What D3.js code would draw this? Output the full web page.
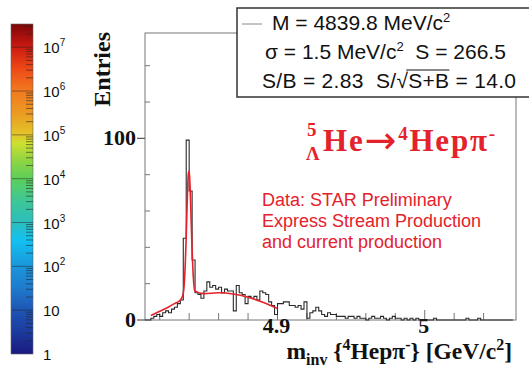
<!DOCTYPE html>
<html>
<head>
<meta charset="utf-8">
<script src="https://cdnjs.cloudflare.com/ajax/libs/d3/7.8.5/d3.min.js"></script>
<style>
  body { margin: 0; background: #fff; }
  svg { display: block; }
  text { white-space: pre; }
</style>
</head>
<body>
<svg id="chart" width="529" height="377"></svg>
<script>
// histogram: 2 MeV bins starting at 4.810 GeV/c^2
const binStart = 4.81;
const binWidth = 0.002;
const counts = [
  0, 0, 1, 2, 3, 2, 4, 5, 4, 6,
  7, 9, 11, 45, 99, 71, 33, 15, 14, 12,
  16, 21, 18, 19, 17, 18, 15, 17, 16, 16,
  5, 19, 15, 14, 9, 13, 12, 13, 11, 16,
  15, 14, 10, 8, 3, 9, 9, 10, 10, 8,
  8, 7, 8, 6, 10, 1, 4, 5, 7, 5,
  3, 2, 4, 3, 3, 2, 2, 2, 1, 2,
  2, 1, 2, 1, 1, 0, 1, 2, 1, 1,
  2, 1, 0, 1, 2, 1, 1, 0, 1, 0,
  1, 0, 1, 0, 0, 0, 0, 0, 1, 0,
  0, 0, 0, 0, 0, 0, 0, 0, 0, 1,
  0, 0, 0, 1, 0, 0, 0, 0, 0, 0,
  0, 0, 0, 0, 0
];

// red fit curve
const fitMass = [4.814, 4.820, 4.826, 4.830, 4.834, 4.8358, 4.8368, 4.8378, 4.8388, 4.8393,
                 4.8398, 4.8403, 4.8408, 4.8418, 4.8428, 4.8438, 4.850, 4.860, 4.870, 4.880, 4.890, 4.900];
const fitEntries = [2.5, 4.8, 7.2, 9, 11, 14, 21.5, 41, 68, 79,
                    82, 79, 69, 43, 24, 16, 14.5, 15, 14.3, 12.5, 9.8, 6.3];

const yMinorTicks = [20, 40, 60, 80, 120, 140];
const yMajorTicks = [0, 100];
const xMinorTicks = [4.82, 4.84, 4.86, 4.88, 4.92, 4.94, 4.96, 4.98, 5.02, 5.04];
const xMajorTicks = [4.9, 5.0];

// colour bar (log10 of entries -> colour)
const paletteLevels = [0, 0.5, 1, 1.5, 2, 2.6, 3, 3.5, 4, 4.5, 4.8, 5, 5.5, 6, 6.5, 7, 7.3, 7.53];
const paletteColors = ["#1b1a7f", "#1c3a9e", "#1d55b4", "#1f7acc", "#1a96dc", "#12c2f0", "#2cbdbd",
                       "#3ec796", "#5ccf5a", "#9bd63e", "#cde030", "#e3c52a", "#eb9a22", "#f27a20",
                       "#ee4a16", "#cc1a10", "#a00e0e", "#7a0808"];
const paletteDecades = [0, 1, 2, 3, 4, 5, 6, 7];

const statsLines = ["M = 4839.8 MeV/c", "σ = 1.5 MeV/c", "S/B = 2.83  S/"];

const svg = d3.select("#chart");
const sans = "'Liberation Sans', Arial, sans-serif";
const serif = "'Liberation Serif', 'Times New Roman', serif";
const red = "#e4222b";

const x = d3.scaleLinear().domain([4.81, 5.062]).range([145, 516]);
const y = d3.scaleLinear().domain([0, 158]).range([320, 33]);

// ---- colour bar ----
const cbY = d3.scaleLinear().domain([0, 7.53]).range([354, 24]);
const grad = svg.append("defs").append("linearGradient")
  .attr("id", "pal").attr("x1", 0).attr("y1", 1).attr("x2", 0).attr("y2", 0);
grad.selectAll("stop")
  .data(paletteLevels)
  .enter()
  .append("stop")
  .attr("offset", (d) => d / 7.53)
  .attr("stop-color", (d, i) => paletteColors[i]);

svg.append("rect")
  .attr("x", 11).attr("y", cbY(7.53))
  .attr("width", 22).attr("height", cbY(0) - cbY(7.53))
  .attr("fill", "url(#pal)")
  .attr("stroke", "#666").attr("stroke-width", 0.6);

const cbMinor = [];
paletteDecades.forEach((d) => {
  for (let k = 2; k <= 9; k++) {
    const v = d + Math.log10(k);
    if (v < 7.53) cbMinor.push(v);
  }
});
svg.append("g")
  .selectAll("line")
  .data(cbMinor)
  .enter()
  .append("line")
  .attr("x1", 26).attr("x2", 33)
  .attr("y1", (d) => cbY(d)).attr("y2", (d) => cbY(d))
  .attr("stroke", "#222").attr("stroke-opacity", 0.7).attr("stroke-width", 0.8);
svg.append("g")
  .selectAll("line")
  .data(paletteDecades.slice(1))
  .enter()
  .append("line")
  .attr("x1", 12).attr("x2", 33)
  .attr("y1", (d) => cbY(d)).attr("y2", (d) => cbY(d))
  .attr("stroke", "#222").attr("stroke-opacity", 0.6).attr("stroke-width", 0.8);

const cbLabels = svg.append("g")
  .selectAll("text")
  .data(paletteDecades)
  .enter()
  .append("text")
  .attr("x", 43)
  .attr("y", (d) => cbY(d) + 6)
  .attr("font-family", sans)
  .attr("font-size", 15)
  .attr("fill", "#111");
cbLabels.each(function (d) {
  const t = d3.select(this);
  if (d === 0) t.text("1");
  else if (d === 1) t.text("10");
  else {
    t.append("tspan").text("10");
    t.append("tspan").attr("dy", -7).attr("font-size", 10).text(d);
  }
});

// ---- frame and axes ----
svg.append("rect")
  .attr("x", x.range()[0]).attr("y", y.range()[1])
  .attr("width", x.range()[1] - x.range()[0])
  .attr("height", y.range()[0] - y.range()[1])
  .attr("fill", "none").attr("stroke", "#777").attr("stroke-width", 1);

svg.append("g")
  .selectAll("line")
  .data(yMinorTicks)
  .enter()
  .append("line")
  .attr("x1", 145).attr("x2", 150)
  .attr("y1", (d) => y(d)).attr("y2", (d) => y(d))
  .attr("stroke", "#777");
svg.append("g")
  .selectAll("line")
  .data(yMajorTicks)
  .enter()
  .append("line")
  .attr("x1", 137).attr("x2", 145)
  .attr("y1", (d) => y(d)).attr("y2", (d) => y(d))
  .attr("stroke", "#555").attr("stroke-width", 1.2);
svg.append("g")
  .selectAll("text")
  .data(yMajorTicks)
  .enter()
  .append("text")
  .attr("x", 136)
  .attr("y", (d) => y(d) + 7)
  .attr("text-anchor", "end")
  .attr("font-family", serif)
  .attr("font-weight", "bold")
  .attr("font-size", 22)
  .attr("fill", "#111")
  .text((d) => d);

svg.append("g")
  .selectAll("line")
  .data(xMinorTicks)
  .enter()
  .append("line")
  .attr("x1", (d) => x(d)).attr("x2", (d) => x(d))
  .attr("y1", 320).attr("y2", 313)
  .attr("stroke", "#777");
svg.append("g")
  .selectAll("line")
  .data(xMajorTicks)
  .enter()
  .append("line")
  .attr("x1", (d) => x(d)).attr("x2", (d) => x(d))
  .attr("y1", 320).attr("y2", 310)
  .attr("stroke", "#777");
svg.append("g")
  .selectAll("text")
  .data(xMajorTicks)
  .enter()
  .append("text")
  .attr("x", (d) => x(d) - 1)
  .attr("y", 333)
  .attr("text-anchor", "middle")
  .attr("font-family", serif)
  .attr("font-weight", "bold")
  .attr("font-size", 22)
  .attr("fill", "#111")
  .text((d) => d3.format("")(d));

// axis titles
svg.append("text")
  .attr("transform", "translate(110,32) rotate(-90)")
  .attr("text-anchor", "end")
  .attr("font-family", serif)
  .attr("font-weight", "bold")
  .attr("font-size", 24)
  .attr("fill", "#111")
  .text("Entries");

const xt = svg.append("text")
  .attr("x", 512).attr("y", 359)
  .attr("text-anchor", "end")
  .attr("font-family", serif)
  .attr("font-weight", "bold")
  .attr("font-size", 23.5)
  .attr("fill", "#111");
xt.append("tspan").text("m");
xt.append("tspan").attr("dy", 6).attr("font-size", 16).text("inv");
xt.append("tspan").attr("dy", -6).text(" {");
xt.append("tspan").attr("dy", -9).attr("font-size", 16).text("4");
xt.append("tspan").attr("dy", 9).text("Hepπ");
xt.append("tspan").attr("dy", -9).attr("font-size", 16).text("-");
xt.append("tspan").attr("dy", 9).text("} [GeV/c");
xt.append("tspan").attr("dy", -9).attr("font-size", 16).text("2");
xt.append("tspan").attr("dy", 9).text("]");

// ---- histogram ----
const edges = counts.map((c, i) => ({ m: binStart + i * binWidth, n: c }));
edges.push({ m: binStart + counts.length * binWidth, n: counts[counts.length - 1] });
const step = d3.line()
  .x((d) => x(d.m))
  .y((d) => y(d.n))
  .curve(d3.curveStepAfter);

svg.append("path")
  .datum(edges)
  .attr("fill", "none")
  .attr("stroke", "#2a2a2a")
  .attr("stroke-width", 1.1)
  .attr("d", step);

// fit
const fitLine = d3.line()
  .x((d, i) => x(fitMass[i]))
  .y((d) => y(d))
  .curve(d3.curveMonotoneX);
svg.append("path")
  .datum(fitEntries)
  .attr("fill", "none")
  .attr("stroke", red)
  .attr("stroke-width", 1.6)
  .attr("d", fitLine);

// ---- stats box ----
svg.append("rect")
  .attr("x", 237).attr("y", 8)
  .attr("width", 300).attr("height", 89)
  .attr("fill", "#fff")
  .attr("stroke", "#333")
  .attr("stroke-width", 1.5);
svg.append("line")
  .attr("x1", 242).attr("x2", 262)
  .attr("y1", 24).attr("y2", 24)
  .attr("stroke", "#888");

const st = (xx, yy) => svg.append("text")
  .attr("x", xx).attr("y", yy)
  .attr("font-family", sans)
  .attr("font-size", 21)
  .attr("fill", "#111");
const l1 = st(272, 30);
l1.append("tspan").text(statsLines[0]);
l1.append("tspan").attr("dy", -8).attr("font-size", 13).text("2");
const l2 = st(265, 59);
l2.append("tspan").text(statsLines[1]);
l2.append("tspan").attr("dy", -8).attr("font-size", 13).text("2");
l2.append("tspan").attr("dy", 8).text("  S = 266.5");
const l3 = st(262, 88).attr("letter-spacing", 0.3);
l3.append("tspan").text(statsLines[2]);
l3.append("tspan").text("√");
l3.append("tspan").text("S+B");
l3.append("tspan").text(" = 14.0");
// radical bar over S+B
const n3 = l3.node();
const i0 = (statsLines[2] + "√").length;
const xs = n3.getStartPositionOfChar(i0).x;
const xe = n3.getEndPositionOfChar(i0 + 2).x;
svg.append("line")
  .attr("x1", xs - 2).attr("x2", xe)
  .attr("y1", 70).attr("y2", 70)
  .attr("stroke", "#111").attr("stroke-width", 1);

// ---- annotations ----
const tAttr = (sel) => sel
  .attr("font-family", serif)
  .attr("font-weight", "bold")
  .attr("fill", red);
tAttr(svg.append("text")).attr("x", 307).attr("y", 136).attr("font-size", 19).text("5");
tAttr(svg.append("text")).attr("x", 306).attr("y", 160).attr("font-size", 19).text("Λ");
const title = tAttr(svg.append("text"))
  .attr("x", 323).attr("y", 151)
  .attr("font-size", 31)
  .attr("letter-spacing", 1.8);
title.append("tspan").text("He");
title.append("tspan")
  .attr("font-family", "'DejaVu Sans', sans-serif")
  .attr("font-weight", "normal")
  .attr("font-size", 38)
  .attr("dy", 2)
  .text("→");
title.append("tspan").attr("dy", -13).attr("font-size", 19).text("4");
title.append("tspan").attr("dy", 11).text("Hepπ");
title.append("tspan").attr("dy", -11).attr("font-size", 19).text("-");

const note = svg.append("text")
  .attr("font-family", sans)
  .attr("font-size", 18)
  .attr("fill", red);
["Data: STAR Preliminary", "Express Stream Production", "and current production"].forEach((s, i) => {
  note.append("tspan").attr("x", 262).attr("y", 206 + i * 21).text(s);
});
</script>
</body>
</html>
